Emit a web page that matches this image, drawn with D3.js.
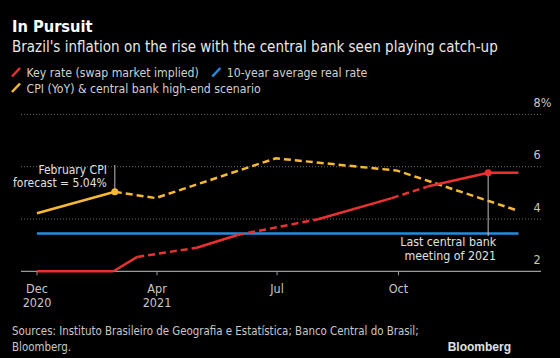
<!DOCTYPE html>
<html><head><meta charset="utf-8">
<script src="https://cdn.jsdelivr.net/npm/d3@7"></script>
<style>
html,body{margin:0;padding:0;background:#000;}
svg{display:block;}
text{font-family:"Liberation Sans Narrow","DejaVu Sans Condensed","Roboto Condensed",sans-serif;}
</style></head>
<body>
<svg id="chart" width="560" height="358"></svg>
<script>
// ---------- DATA ----------
const title = "In Pursuit";
const subtitle = "Brazil's inflation on the rise with the central bank seen playing catch-up";
const legendLabels = ["Key rate (swap market implied)", "10-year average real rate", "CPI (YoY) & central bank high-end scenario"];

const cpiDates  = ["2020-12-31","2021-02-28","2021-03-31","2021-06-30","2021-09-30","2021-12-31"];
const cpiValues = [4.22, 5.04, 4.80, 6.32, 5.85, 4.31];
const cpiActualCount = 2; // first 2 points are actual, rest scenario (dashed)

const keyDates  = ["2020-12-31","2021-02-27","2021-03-17","2021-05-01","2021-06-01","2021-08-01","2021-09-26","2021-10-23","2021-12-08","2021-12-31"];
const keyValues = [2.0, 2.0, 2.55, 2.90, 3.39, 3.99, 4.80, 5.24, 5.77, 5.77];
const keyDashedSegments = [2, 4, 6]; // segment index i joins point i and i+1

const realRateDates  = ["2020-12-31","2021-12-31"];
const realRateValues = [3.45, 3.45];

const yTicks = [2, 4, 6, 8];
const xTickDates  = ["2020-12-31","2021-04-01","2021-07-01","2021-10-01"];
const xTickLabels = [["Dec","2020"],["Apr","2021"],["Jul"],["Oct"]];

const febNote = ["February CPI", "forecast = 5.04%"];
const meetingNote = ["Last central bank", "meeting of 2021"];
const febNoteIndex = 1;      // cpi point
const meetingNoteIndex = 8;  // key rate point

const sources = ["Sources: Instituto Brasileiro de Geografia e Estatística; Banco Central do Brasil;", "Bloomberg."];

// ---------- DRAW ----------
const RED = "#e8322f", BLUE = "#1f8fe5", YEL = "#f7b935";
const svg = d3.select("#chart");
const parse = d3.timeParse("%Y-%m-%d");

const x = d3.scaleTime().domain([parse("2020-12-31"), parse("2021-12-31")]).range([37, 518.5]);
const y = d3.scaleLinear().domain([2, 8]).range([271.3, 114.4]);
const plotL = 21, plotR = 541;

svg.append("rect").attr("width",560).attr("height",358).attr("fill","#000");

// titles
svg.append("text").attr("x",12).attr("y",32).attr("fill","#fff")
  .attr("font-size",16.3).attr("font-weight","bold").text(title);
svg.append("text").attr("x",12).attr("y",52).attr("fill","#e8e8e8")
  .attr("font-size",15).text(subtitle);

// legend
const legColors = [RED, BLUE, YEL];
function legendItem(lx, ly, color, label){
  svg.append("line").attr("x1",lx).attr("y1",ly+0.5).attr("x2",lx+8).attr("y2",ly-8)
    .attr("stroke",color).attr("stroke-width",2.5);
  const t = svg.append("text").attr("x",lx+14.5).attr("y",ly+1).attr("fill","#d0d0d0")
    .attr("font-size",12.2).text(label);
  return lx + 14.5 + t.node().getComputedTextLength();
}
const e1 = legendItem(12, 76, legColors[0], legendLabels[0]);
legendItem(e1 + 13.5, 76, legColors[1], legendLabels[1]);
legendItem(12, 91.5, legColors[2], legendLabels[2]);

// gridlines
yTicks.filter(v => v !== 2).forEach(v => {
  svg.append("line").attr("x1",plotL).attr("x2",plotR).attr("y1",y(v)).attr("y2",y(v))
    .attr("stroke","#6a6a6a").attr("stroke-width",1).attr("stroke-dasharray","1,2");
});
// y labels
yTicks.forEach((v,i) => {
  svg.append("text").attr("x",533.5).attr("y",y(v)-7.5).attr("fill","#c8c8c8")
    .attr("font-size",12.5).text(i === yTicks.length-1 ? v + "%" : v);
});

// x axis
svg.append("line").attr("x1",plotL).attr("x2",plotR).attr("y1",y(2)).attr("y2",y(2))
  .attr("stroke","#9a9a9a").attr("stroke-width",1.2);
xTickDates.forEach((d,i) => {
  const xx = x(parse(d));
  svg.append("line").attr("x1",xx).attr("x2",xx).attr("y1",y(2)).attr("y2",y(2)+4)
    .attr("stroke","#9a9a9a").attr("stroke-width",1);
  xTickLabels[i].forEach((lab,j) => {
    svg.append("text").attr("x",xx).attr("y",292.5 + j*14.8).attr("text-anchor","middle")
      .attr("fill","#c8c8c8").attr("font-size",12.5).text(lab);
  });
});

const line = d3.line().x(d => x(d.date)).y(d => y(d.value));

// blue real rate
const realData = realRateDates.map((d,i) => ({date: parse(d), value: realRateValues[i]}));
svg.append("path").datum(realData).attr("d", line).attr("fill","none")
  .attr("stroke",BLUE).attr("stroke-width",2.5);

// CPI
const cpiData = cpiDates.map((d,i) => ({date: parse(d), value: cpiValues[i]}));
svg.append("path").datum(cpiData.slice(0, cpiActualCount)).attr("d", line).attr("fill","none")
  .attr("stroke",YEL).attr("stroke-width",2.5);
svg.append("path").datum(cpiData.slice(cpiActualCount-1)).attr("d", line).attr("fill","none")
  .attr("stroke",YEL).attr("stroke-width",2.5).attr("stroke-dasharray","7,4");

// key rate
const keyData = keyDates.map((d,i) => ({date: parse(d), value: keyValues[i]}));
for (let i = 0; i < keyData.length - 1; i++) {
  const p = svg.append("path").datum([keyData[i], keyData[i+1]]).attr("d", line)
    .attr("fill","none").attr("stroke",RED).attr("stroke-width",2.5).attr("stroke-linecap","butt");
  if (keyDashedSegments.includes(i)) p.attr("stroke-dasharray","7,4");
}

// annotations
const fp = cpiData[febNoteIndex];
const fx = x(fp.date), fy = y(fp.value);
svg.append("line").attr("x1",fx).attr("x2",fx).attr("y1",165).attr("y2",fy)
  .attr("stroke","#bdbdbd").attr("stroke-width",1);
febNote.forEach((t,j) => {
  svg.append("text").attr("x",fx-8).attr("y",174 + j*13).attr("text-anchor","end")
    .attr("fill","#e0e0e0").attr("font-size",12).text(t);
});
svg.append("circle").attr("cx",fx).attr("cy",fy).attr("r",3.5).attr("fill",YEL);

const mp = keyData[meetingNoteIndex];
const mx = x(mp.date), my = y(mp.value);
svg.append("line").attr("x1",mx).attr("x2",mx).attr("y1",my).attr("y2",236)
  .attr("stroke","#bdbdbd").attr("stroke-width",1);
meetingNote.forEach((t,j) => {
  svg.append("text").attr("x",mx+8).attr("y",245.5 + j*14).attr("text-anchor","end")
    .attr("fill","#e0e0e0").attr("font-size",12.3).text(t);
});
svg.append("circle").attr("cx",mx).attr("cy",my).attr("r",3.5).attr("fill",RED);

// footer
sources.forEach((t,j) => {
  svg.append("text").attr("x",12).attr("y",335 + j*16).attr("fill","#c8c8c8")
    .attr("font-size",11.4).text(t);
});
svg.append("text").attr("x",511).attr("y",351).attr("text-anchor","end").attr("fill","#e0e0e0")
  .attr("font-size",12).attr("font-weight","bold")
  .style("font-family","Liberation Sans, Arial, sans-serif").text("Bloomberg");
</script>
</body></html>
